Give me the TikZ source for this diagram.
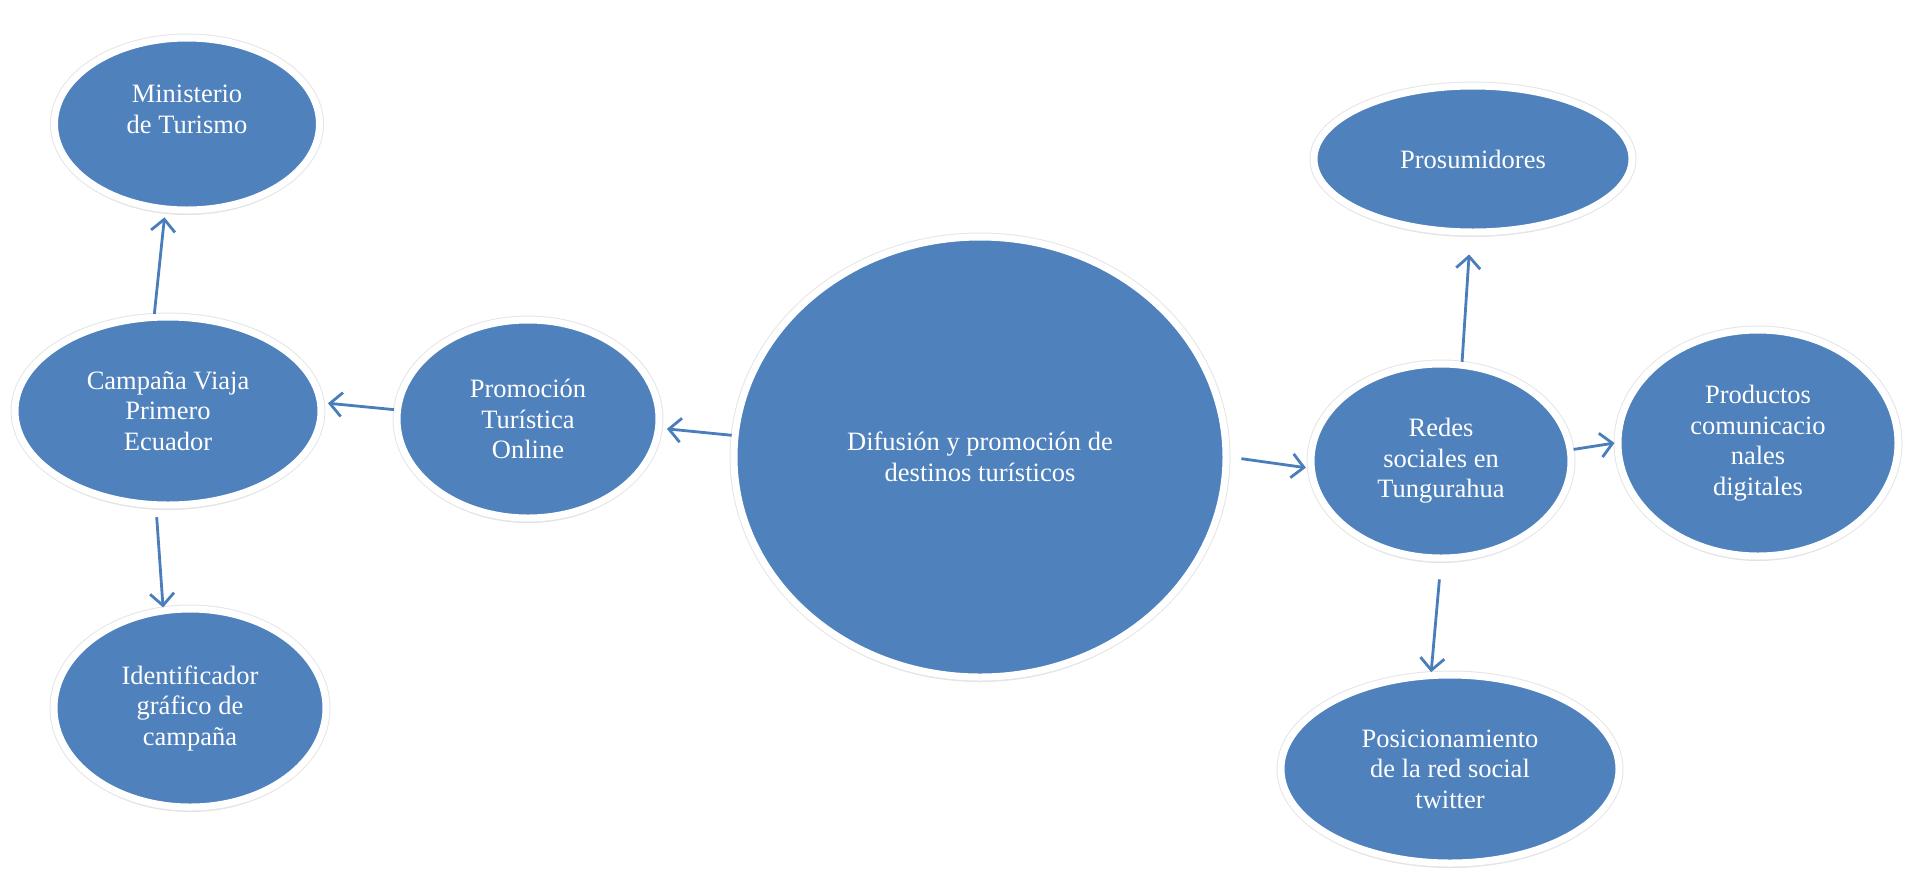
\documentclass[tikz,border=0pt]{standalone}
\usepackage{fontspec}
\setmainfont{Liberation Serif}
\usetikzlibrary{shapes.geometric,arrows.meta,shadows}
\definecolor{bblue}{HTML}{4F81BD}
\definecolor{ablue}{HTML}{4A7EBB}
\begin{document}
\begin{tikzpicture}[x=1pt,y=-1pt,
  bub/.style={ellipse, fill=bblue, draw=white, line width=7pt, text=white,
    align=center, inner sep=0pt, font=\fontsize{26.5}{30.5}\selectfont,
    drop shadow={shadow xshift=0pt, shadow yshift=-5pt, opacity=0.16, fill=black!70},
    preaction={draw=black!10, line width=9pt}},
  conn/.style={draw=ablue, line width=2.8pt,
    -{Straight Barb[length=12pt,width=24pt,line width=2.8pt]}}]
\useasboundingbox (0,0) rectangle (1909,871);

\node[bub, minimum width=265pt, minimum height=172pt, text depth=30pt] (min) at (187,124) {Ministerio\\de Turismo};
\node[bub, minimum width=306pt, minimum height=188pt] (camp)  at (168,411) {Campaña Viaja\\Primero\\Ecuador};
\node[bub, minimum width=272pt, minimum height=198pt] (ident) at (190,708) {Identificador\\gráfico de\\campaña};
\node[bub, minimum width=262pt, minimum height=198pt] (promo) at (528,419) {Promoción\\Turística\\Online};
\node[bub, minimum width=492pt, minimum height=440pt] (dif)   at (980,457) {Difusión y promoción de\\destinos turísticos};
\node[bub, minimum width=318pt, minimum height=146pt] (pros)  at (1473,159) {Prosumidores};
\node[bub, minimum width=260pt, minimum height=194pt] (redes) at (1441,461) {Redes\\sociales en\\Tungurahua};
\node[bub, minimum width=280pt, minimum height=226pt] (prod)  at (1758,443) {Productos\\comunicacio\\nales\\digitales};
\node[bub, minimum width=338pt, minimum height=188pt] (pos)   at (1450,769) {Posicionamiento\\de la red social\\twitter};

\draw[conn, shorten >=5pt] (camp.98) -- (min.256);
\draw[conn, shorten <=9pt] (camp.263) -- (ident.105);
\draw[conn, shorten >=4pt] (promo.176) -- (camp.3);
\draw[conn, shorten >=5pt] (dif.175) -- (promo.356);
\draw[conn, shorten <=12pt, shorten >=2pt] (dif.0) -- (redes.183);
\draw[conn, shorten >=19pt] (redes.78) -- (pros.268);
\draw[conn] (redes.5) -- (prod.180);
\draw[conn, shorten <=18pt] (redes.270) -- (pos.101);
\end{tikzpicture}
\end{document}
